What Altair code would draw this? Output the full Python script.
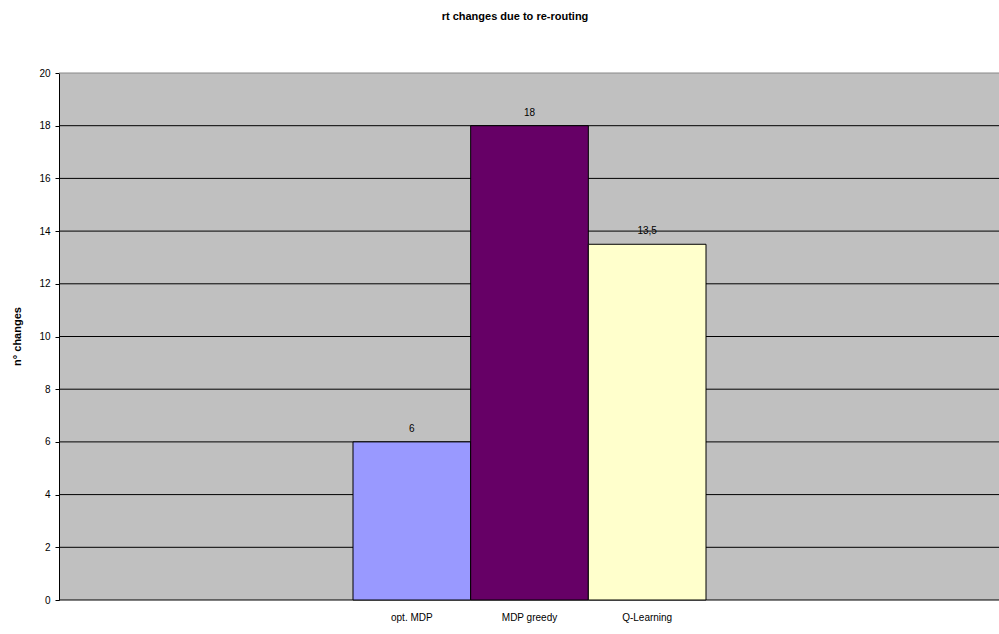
import altair as alt
import pandas as pd

# Re-routing changes per routing strategy
methods = ["opt. MDP", "MDP greedy", "Q-Learning"]
changes = [6, 18, 13.5]
bar_colors = ["#9999FF", "#660066", "#FFFFCC"]
y_ticks = list(range(0, 21, 2))

df = pd.DataFrame({"method": methods, "changes": changes})
grid_df = pd.DataFrame({"tick": y_ticks})

y_scale = alt.Scale(domain=[0, 20], nice=False)
y_axis = alt.Axis(
    title="n° changes",
    values=y_ticks,
    titleFont="Liberation Sans",
    titleFontSize=11,
    titleFontWeight="bold",
    titleColor="black",
    titleAngle=-90,
    titleX=-42,
    titleY=263,
    titleAlign="center",
    titleBaseline="middle",
    labelFont="Liberation Sans",
    labelFontSize=10,
    labelColor="black",
    labelPadding=5,
    tickSize=4,
    tickColor="black",
    domainColor="black",
    grid=False,
)

# horizontal gridlines across the full plot width (top one drawn lighter)
grid = alt.Chart(grid_df).mark_rule(strokeWidth=1).encode(
    y=alt.Y("tick:Q", scale=y_scale, axis=y_axis),
    x=alt.value(0),
    x2=alt.value("width"),
    color=alt.condition("datum.tick == 20", alt.value("#888888"), alt.value("black")),
)

# the three bars sit as one centred cluster inside the wide plot
x_enc = alt.X(
    "method:N",
    sort=methods,
    scale=alt.Scale(paddingInner=0, paddingOuter=0, range=[294, 647]),
    axis=alt.Axis(
        title=None,
        labelAngle=0,
        labelFont="Liberation Sans",
        labelFontSize=10,
        labelColor="black",
        labelPadding=12,
        ticks=False,
        domain=False,
    ),
)

bars = alt.Chart(df).mark_bar(stroke="black", strokeWidth=1).encode(
    x=x_enc,
    y=alt.Y("changes:Q", scale=y_scale, axis=y_axis),
    color=alt.Color(
        "method:N",
        sort=methods,
        scale=alt.Scale(domain=methods, range=bar_colors),
        legend=None,
    ),
)

labels = (
    alt.Chart(df)
    .transform_calculate(label="replace(format(datum.changes, ''), '.', ',')")
    .mark_text(
        baseline="bottom",
        dy=-8,
        font="Liberation Sans",
        fontSize=10,
        color="black",
    )
    .encode(
        x=alt.X("method:N", sort=methods),
        y=alt.Y("changes:Q", scale=y_scale, axis=y_axis),
        text="label:N",
    )
)

chart = (
    alt.layer(grid, bars, labels)
    .properties(
        width=940,
        height=527,
        autosize=alt.AutoSizeParams(type="none"),
        padding={"left": 59, "top": 73, "right": 0, "bottom": 34},
        title=alt.TitleParams(
            "rt changes due to re-routing",
            font="Liberation Sans",
            fontSize=11,
            fontWeight="bold",
            color="black",
            anchor="middle",
            dx=-14,
            offset=46,
        ),
    )
    .configure(background="white")
    .configure_view(fill="#C0C0C0", strokeWidth=0)
)

chart.save("out.html", embed_options={"renderer": "svg", "actions": False})
